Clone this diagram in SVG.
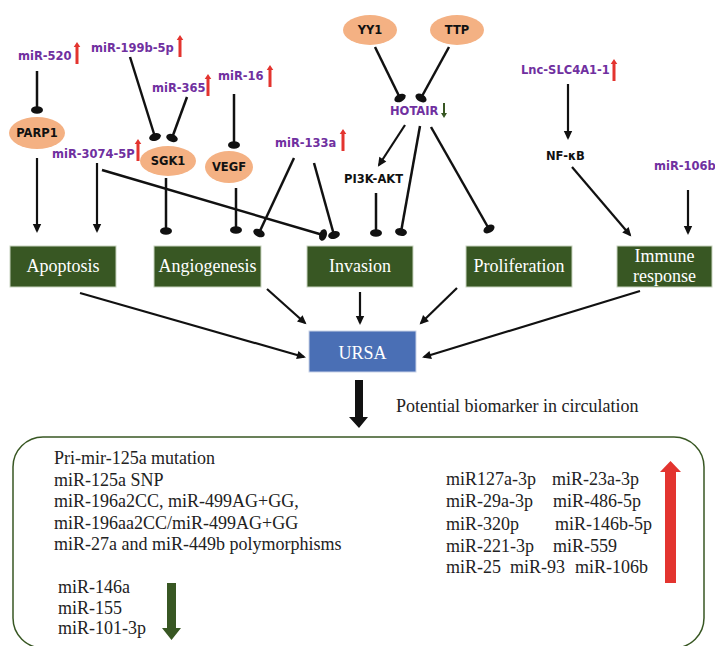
<svg xmlns="http://www.w3.org/2000/svg" xmlns:xlink="http://www.w3.org/1999/xlink" width="715" height="646" viewBox="0 0 715 646">
<style>
.lbl{font-family:"DejaVu Sans",sans-serif;font-weight:bold;font-size:11.5px;fill:#7030a0}
.blk{font-family:"DejaVu Sans",sans-serif;font-weight:bold;font-size:11.5px;fill:#111}
.ser{font-family:"Liberation Serif",serif;font-size:18px;fill:#222}
.box{fill:#385723;stroke:#c8d4bf;stroke-width:1}
.boxt{font-family:"Liberation Serif",serif;font-size:18px;fill:#fff;text-anchor:middle}
.ell{fill:#f4b183}
.inh{stroke:#111;stroke-width:2.5;fill:none;marker-end:url(#blunt)}
.act{stroke:#111;stroke-width:2.2;fill:none;marker-end:url(#arr)}
.red{fill:#e3342f}
</style>
<defs>
<marker id="blunt" viewBox="-7 -7 14 14" markerWidth="14" markerHeight="14" markerUnits="userSpaceOnUse" refX="0" refY="0" orient="auto">
<ellipse cx="0" cy="0" rx="3.8" ry="6" fill="#111"/>
</marker>
<marker id="arr" viewBox="-10 -6 14 12" markerWidth="14" markerHeight="12" markerUnits="userSpaceOnUse" refX="0" refY="0" orient="auto">
<path d="M-7,-4.2 L2,0 L-7,4.2 Z" fill="#111"/>
</marker>
<path id="upRed" d="M-1.5,22 V5 H-3.3 L0,0 L3.3,5 H1.5 V22 Z"/>
</defs>

<g id="connectors">
<line class="inh" x1="37" y1="71" x2="37" y2="110"/>
<line class="act" x1="37" y1="158" x2="37" y2="231"/>
<line class="inh" x1="130" y1="57" x2="155" y2="137"/>
<line class="inh" x1="187" y1="97" x2="172" y2="138"/>
<line class="inh" x1="234" y1="94" x2="234" y2="145"/>
<line class="act" x1="97" y1="163" x2="97" y2="231"/>
<line class="inh" x1="102" y1="170" x2="323" y2="235"/>
<line class="inh" x1="166" y1="178" x2="166" y2="231"/>
<line class="inh" x1="236" y1="188" x2="236" y2="230"/>
<line class="inh" x1="294" y1="158" x2="259" y2="233"/>
<line class="inh" x1="314" y1="163" x2="334" y2="235"/>
<line class="inh" x1="375" y1="47" x2="400" y2="98"/>
<line class="inh" x1="449" y1="47" x2="421" y2="98"/>
<line class="act" x1="405" y1="125" x2="379" y2="165"/>
<line class="inh" x1="376" y1="193" x2="376" y2="233"/>
<line class="inh" x1="420" y1="126" x2="401" y2="232"/>
<line class="inh" x1="431" y1="127" x2="489" y2="229"/>
<line class="act" x1="568" y1="84" x2="568" y2="138"/>
<line class="act" x1="572" y1="167" x2="630" y2="235"/>
<line class="act" x1="688" y1="190" x2="688" y2="233"/>
<line class="act" x1="80" y1="293" x2="304" y2="357"/>
<line class="act" x1="267" y1="289" x2="305" y2="323"/>
<line class="act" x1="360" y1="292" x2="360" y2="323"/>
<line class="act" x1="457" y1="288" x2="421" y2="323"/>
<line class="act" x1="640" y1="291" x2="424" y2="357"/>
<path d="M355,380 H363 V417 H368 L359,428 L349,417 H355 Z" fill="#111"/>
</g>

<g id="miR-520"><text class="lbl" x="18" y="60">miR-520</text><use xlink:href="#upRed" class="red" x="77" y="42"/></g>
<g id="miR-199b-5p"><text class="lbl" x="91" y="52">miR-199b-5p</text><use xlink:href="#upRed" class="red" x="180" y="35"/></g>
<g id="miR-365"><text class="lbl" x="152" y="92">miR-365</text><use xlink:href="#upRed" class="red" x="208" y="74"/></g>
<g id="miR-16"><text class="lbl" x="218" y="80">miR-16</text><use xlink:href="#upRed" class="red" x="270" y="65"/></g>
<g id="miR-3074-5P"><text class="lbl" x="52" y="158">miR-3074-5P</text><use xlink:href="#upRed" class="red" x="138" y="139"/></g>
<g id="miR-133a"><text class="lbl" x="275" y="147">miR-133a</text><use xlink:href="#upRed" class="red" x="343" y="129"/></g>
<g id="HOTAIR"><text class="lbl" x="390" y="115">HOTAIR</text><path d="M443,103 H445 V113 H447 L444,118 L441,113 H443 Z" fill="#385723"/></g>
<g id="Lnc-SLC4A1-1"><text class="lbl" x="521" y="74">Lnc-SLC4A1-1</text><use xlink:href="#upRed" class="red" x="614" y="59"/></g>
<g id="miR-106b"><text class="lbl" x="654" y="170" font-size="10.8px">miR-106b</text></g>
<g id="PI3K-AKT"><text class="blk" x="344" y="183">PI3K-AKT</text></g>
<g id="NF-kB"><text class="blk" x="546" y="160">NF-κB</text></g>

<g id="PARP1"><ellipse class="ell" cx="37" cy="133" rx="28" ry="16"/><text class="blk" x="37" y="137" text-anchor="middle">PARP1</text></g>
<g id="SGK1"><ellipse class="ell" cx="168" cy="161" rx="28" ry="15"/><text class="blk" x="168" y="165" text-anchor="middle">SGK1</text></g>
<g id="VEGF"><ellipse class="ell" cx="229" cy="167" rx="24" ry="16"/><text class="blk" x="229" y="171" text-anchor="middle">VEGF</text></g>
<g id="YY1"><ellipse class="ell" cx="370" cy="30" rx="27" ry="15"/><text class="blk" x="370" y="34" text-anchor="middle">YY1</text></g>
<g id="TTP"><ellipse class="ell" cx="457" cy="30" rx="27" ry="15"/><text class="blk" x="457" y="34" text-anchor="middle">TTP</text></g>

<g id="Apoptosis"><rect class="box" x="10" y="246" width="106" height="41"/><text class="boxt" x="63" y="272">Apoptosis</text></g>
<g id="Angiogenesis"><rect class="box" x="154" y="246" width="107" height="41"/><text class="boxt" x="207.5" y="272">Angiogenesis</text></g>
<g id="Invasion"><rect class="box" x="307" y="246" width="106" height="41"/><text class="boxt" x="360" y="272">Invasion</text></g>
<g id="Proliferation"><rect class="box" x="466" y="246" width="106" height="41"/><text class="boxt" x="519" y="272">Proliferation</text></g>
<g id="Immune-response"><rect class="box" x="617" y="246" width="95" height="41"/><text class="boxt" x="664.5" y="262">Immune</text><text class="boxt" x="664.5" y="282">response</text></g>
<g id="URSA"><rect x="309" y="331" width="107" height="41" fill="#4a6fb5" stroke="#c9d3e8" stroke-width="1"/><text class="boxt" x="362.5" y="359">URSA</text></g>

<g id="caption"><text class="ser" x="396" y="412" font-size="19px">Potential biomarker in circulation</text></g>

<g id="biomarker-box">
<rect x="13" y="437" width="691" height="211" rx="30" ry="30" fill="none" stroke="#385723" stroke-width="1.5"/>
<text class="ser" x="54" y="464">Pri-mir-125a mutation</text>
<text class="ser" x="54" y="486">miR-125a SNP</text>
<text class="ser" x="54" y="507">miR-196a2CC, miR-499AG+GG,</text>
<text class="ser" x="54" y="529">miR-196aa2CC/miR-499AG+GG</text>
<text class="ser" x="54" y="550">miR-27a and miR-449b polymorphisms</text>
<text class="ser" x="58" y="593">miR-146a</text>
<text class="ser" x="58" y="614">miR-155</text>
<text class="ser" x="58" y="634">miR-101-3p</text>
<path d="M167,583 H176 V628 H181 L171.5,640 L162,628 H167 Z" fill="#385723"/>
<text class="ser" x="446" y="485">miR127a-3p</text>
<text class="ser" x="552" y="485">miR-23a-3p</text>
<text class="ser" x="446" y="507">miR-29a-3p</text>
<text class="ser" x="553" y="507">miR-486-5p</text>
<text class="ser" x="446" y="530">miR-320p</text>
<text class="ser" x="555" y="530">miR-146b-5p</text>
<text class="ser" x="446" y="552">miR-221-3p</text>
<text class="ser" x="553" y="552">miR-559</text>
<text class="ser" x="446" y="573">miR-25</text>
<text class="ser" x="510" y="573">miR-93</text>
<text class="ser" x="575" y="573">miR-106b</text>
<path d="M665,583 V472 H660 L670.5,461 L681,472 H676 V583 Z" fill="#e3342f"/>
</g>
</svg>
